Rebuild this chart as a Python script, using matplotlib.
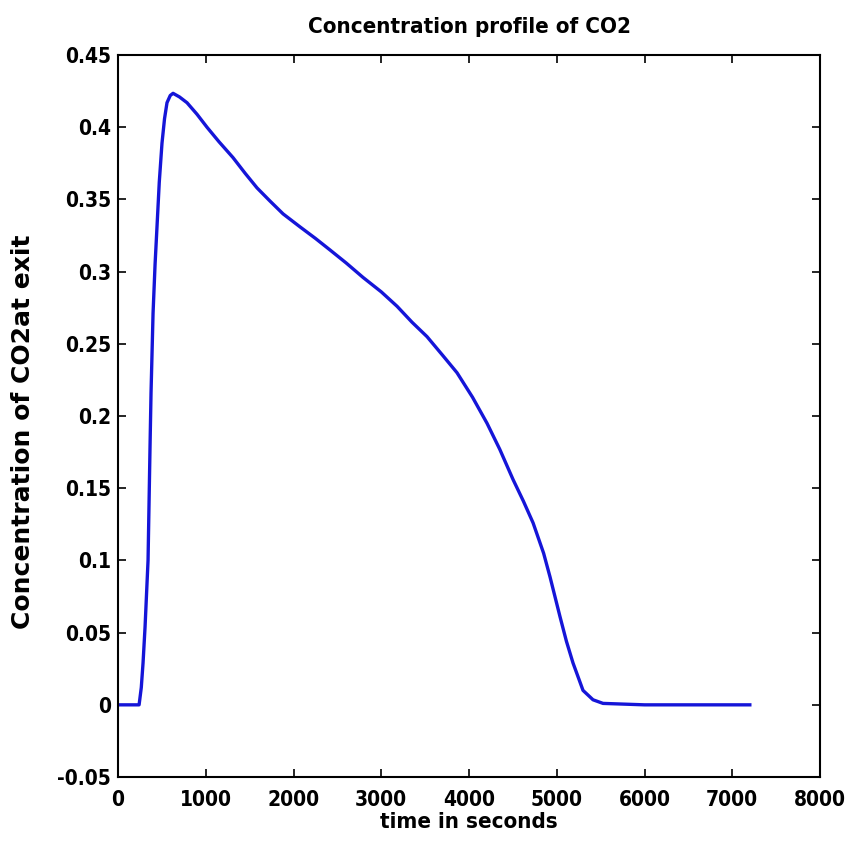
import matplotlib
matplotlib.use("Agg")
import matplotlib.pyplot as plt
from matplotlib import font_manager

# time (s) and exit CO2 concentration
time_s = [0, 240, 265, 285, 308, 342, 365, 376, 399, 422, 444, 470, 501, 530,
          558, 595, 627, 700, 786, 900, 1014, 1150, 1310, 1450, 1584, 1730,
          1881, 2074, 2250, 2416, 2600, 2792, 3000, 3180, 3350, 3521, 3700,
          3863, 4040, 4205, 4350, 4502, 4620, 4730, 4850, 4923, 5037, 5110,
          5185, 5299, 5413, 5527, 6000, 6500, 7200]
conc = [0, 0, 0.012, 0.029, 0.054, 0.100, 0.180, 0.216, 0.271, 0.305, 0.331,
        0.362, 0.389, 0.406, 0.417, 0.422, 0.4235, 0.421, 0.417, 0.409,
        0.400, 0.390, 0.379, 0.368, 0.358, 0.349, 0.340, 0.331, 0.323,
        0.315, 0.306, 0.296, 0.286, 0.276, 0.265, 0.255, 0.242, 0.230,
        0.213, 0.195, 0.177, 0.156, 0.141, 0.126, 0.105, 0.0886, 0.061,
        0.044, 0.029, 0.010, 0.0035, 0.001, 0.0, 0.0, 0.0]

x_ticks = [0, 1000, 2000, 3000, 4000, 5000, 6000, 7000, 8000]
y_ticks = [-0.05, 0, 0.05, 0.1, 0.15, 0.2, 0.25, 0.3, 0.35, 0.4, 0.45]
y_tick_labels = ['-0.05', '0', '0.05', '0.1', '0.15', '0.2', '0.25', '0.3',
                 '0.35', '0.4', '0.45']

narrow = font_manager.FontProperties(family='DejaVu Sans', weight='bold',
                                     stretch='condensed', size=15)
title_font = narrow.copy()
title_font.set_size(16)

fig = plt.figure(figsize=(8.51, 8.47), dpi=100)
ax = fig.add_axes([0.1387, 0.0826, 0.8249, 0.8524])

ax.plot(time_s, conc, color='#1515d8', lw=2.4)

ax.set_xlim(0, 8000)
ax.set_ylim(-0.05, 0.45)
ax.set_xticks(x_ticks)
ax.set_xticklabels([str(t) for t in x_ticks], fontproperties=narrow)
ax.set_yticks(y_ticks)
ax.set_yticklabels(y_tick_labels, fontproperties=narrow)
ax.tick_params(direction='in', top=True, right=True, length=6, width=1.2)
ax.tick_params(axis='x', pad=9)
ax.tick_params(axis='y', pad=5)
for s in ax.spines.values():
    s.set_linewidth(1.5)

ax.set_title('Concentration profile of CO2', fontproperties=title_font,
             pad=16)
ax.set_xlabel('time in seconds', fontproperties=title_font, labelpad=2)
ax.set_ylabel('Concentration of CO2at exit', family='DejaVu Sans',
              fontweight='bold', fontsize=18)
ax.yaxis.set_label_coords(-0.118, 0.478)

fig.savefig('out.png', dpi=100)
